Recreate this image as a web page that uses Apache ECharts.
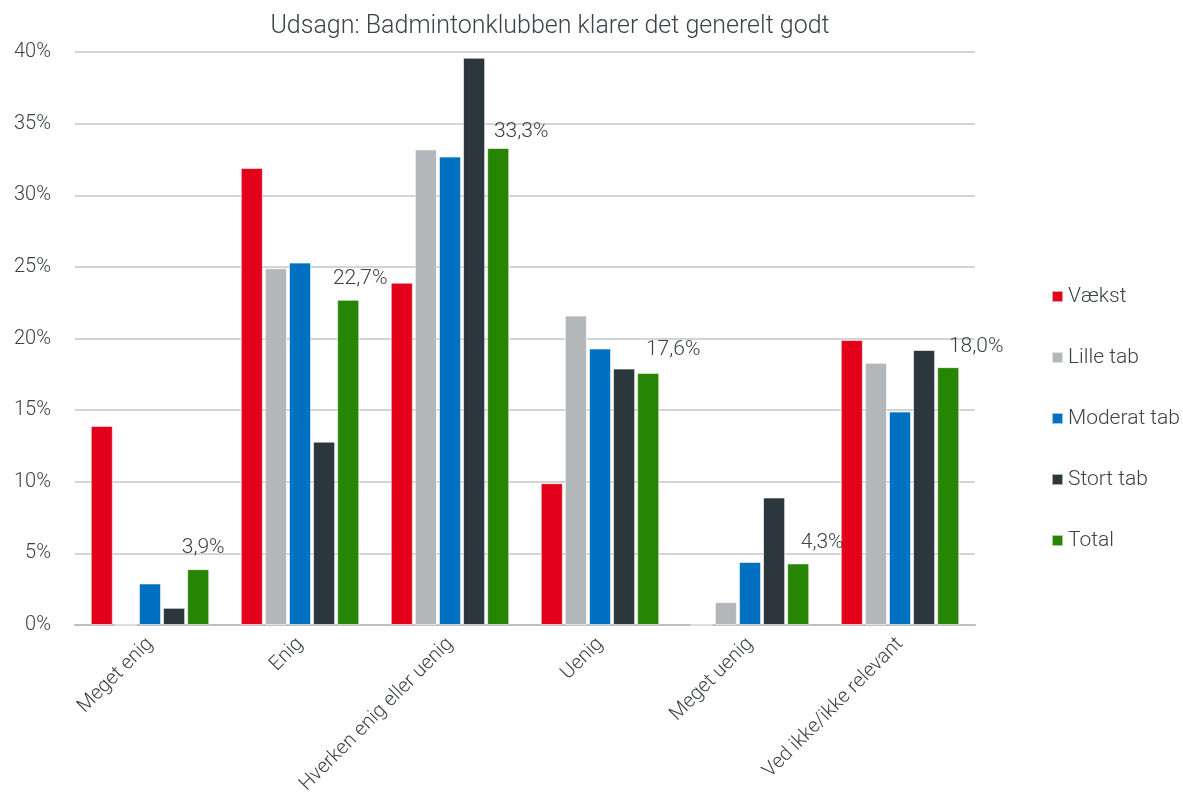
<!DOCTYPE html>
<html><head><meta charset="utf-8">
<script src="https://cdn.jsdelivr.net/npm/echarts@6/dist/echarts.min.js"></script>
<style>html,body{margin:0;padding:0;background:#fff}#c{width:1183px;height:811px}</style>
</head><body><div id="c"></div>
<script>
const categories = ['Meget enig','Enig','Hverken enig eller uenig','Uenig','Meget uenig','Ved ikke/ikke relevant'];
const vaekst = [13.9, 31.9, 23.9, 9.9, 0, 19.9];
const lilleTab = [0, 24.9, 33.2, 21.6, 1.6, 18.3];
const moderatTab = [2.9, 25.3, 32.7, 19.3, 4.4, 14.9];
const stortTab = [1.2, 12.8, 39.6, 17.9, 8.9, 19.2];
const total = [3.9, 22.7, 33.3, 17.6, 4.3, 18.0];
const yTicks = [0, 5, 10, 15, 20, 25, 30, 35, 40];

const labelOffsets = [[5,-6],[12,-6],[23,-1],[25,-8],[24,-5],[28,-5]];
const FONT = 'Roboto';
const TXT = '#3d4248';
const colors = ['#e2001a','#b4b7ba','#0070c0','#2c363d','#268503'];
const names = ['Vækst','Lille tab','Moderat tab','Stort tab','Total'];
const datas = [vaekst, lilleTab, moderatTab, stortTab, total];

const chart = echarts.init(document.getElementById('c'), null, {renderer:'canvas'});
chart.setOption({
  animation:false,
  title:{text:'Udsagn: Badmintonklubben klarer det generelt godt', left:545, top:9, textAlign:'center',
    textStyle:{fontFamily:FONT, fontWeight:300, fontSize:25, color:TXT}},
  legend:{orient:'vertical', left:1046, top:281, itemWidth:11, itemHeight:11, itemGap:40,
    icon:'rect', textStyle:{fontFamily:FONT, fontWeight:300, fontSize:21, color:TXT}, data:names},
  grid:{left:75, right:208, top:52, bottom:186, containLabel:false},
  xAxis:{type:'category', data:categories,
    axisLine:{lineStyle:{color:'#bfbfbf', width:2}}, axisTick:{show:false},
    axisLabel:{rotate:45, fontFamily:FONT, fontWeight:300, fontSize:20, color:TXT, margin:16, interval:0}},
  yAxis:{type:'value', min:0, max:40, interval:5,
    axisLine:{show:false}, axisTick:{show:false},
    splitLine:{lineStyle:{color:'#c4c6c8', width:1.5}},
    axisLabel:{formatter:v=>yTicks.includes(v)?v+'%':'', fontFamily:FONT, fontWeight:300, fontSize:20, color:TXT, margin:24}},
  series: names.map((n,i)=>({
    name:n, type:'bar', barGap:'9%', barCategoryGap:'21%',
    itemStyle:{color:colors[i], borderColor:'rgba(255,255,255,0.6)', borderWidth:1},
    data: datas[i].map((v,j)=> i===4 ? {value:v, label:{show:true, position:'top', offset:labelOffsets[j],
      formatter:p=>p.value.toFixed(1).replace('.',',')+'%', fontFamily:FONT, fontWeight:300, fontSize:21, color:TXT}} : v)
  }))
});
</script></body></html>
